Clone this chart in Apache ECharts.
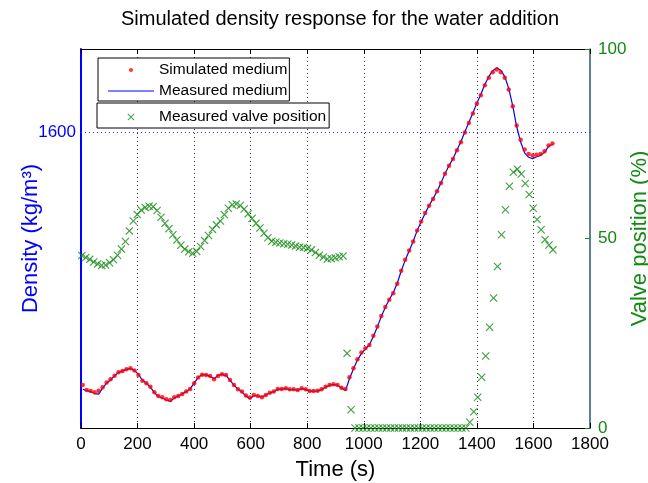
<!DOCTYPE html>
<html>
<head>
<meta charset="utf-8">
<script src="https://cdn.jsdelivr.net/npm/echarts@6/dist/echarts.min.js"></script>
<style>
  html, body { margin: 0; padding: 0; background: #fff; }
  #chart { width: 648px; height: 483px; }
</style>
</head>
<body>
<div id="chart"></div>
<script>
'use strict';
// sample times (s): density every ~14.08 s from 6 s, valve every 14 s from 3 s
var densityStart = 6, densityStep = 14.08;
var valveStart = 3, valveStep = 14;

// simulated density (red dots)
var simulatedDensity = [
  1343.7, 1338.6, 1337.6, 1336.3, 1337.9, 1341.4, 1346.1, 1349.5, 1353.2, 1356.6,
  1358.0, 1359.7, 1360.7, 1358.3, 1353.9, 1348.1, 1345.5, 1342.0, 1336.3, 1332.6,
  1331.2, 1329.2, 1328.5, 1331.2, 1332.6, 1334.6, 1337.0, 1339.7, 1345.5, 1351.2,
  1354.2, 1353.9, 1352.9, 1349.5, 1352.9, 1354.6, 1353.9, 1348.8, 1343.7, 1339.3,
  1337.0, 1332.9, 1331.0, 1333.6, 1332.6, 1331.2, 1333.6, 1335.9, 1337.0, 1339.7,
  1339.7, 1340.4, 1339.3, 1339.3, 1338.6, 1340.4, 1339.3, 1337.6, 1337.6, 1337.9,
  1339.3, 1342.0, 1343.7, 1344.4, 1343.7, 1341.0, 1339.7, 1351.6, 1360.7, 1369.9,
  1376.6, 1381.1, 1384.4, 1393.6, 1403.0, 1413.9, 1422.8, 1430.2, 1437.0, 1446.5,
  1459.7, 1470.9, 1480.3, 1489.5, 1500.7, 1509.8, 1518.4, 1525.8, 1532.6, 1540.4,
  1548.9, 1558.4, 1566.5, 1573.3, 1582.1, 1590.2, 1600.3, 1609.9, 1619.4, 1629.6,
  1638.0, 1648.2, 1655.7, 1661.4, 1664.2, 1661.4, 1655.7, 1643.8, 1626.8, 1607.2,
  1592.9, 1582.8, 1578.4, 1576.7, 1577.7, 1578.4, 1581.1, 1586.9, 1588.9
];

// measured density (blue line)
var measuredDensity = [
  1339.4, 1338.0, 1337.0, 1335.0, 1334.4, 1340.5, 1345.5, 1349.0, 1353.0, 1356.5,
  1358.0, 1359.5, 1360.5, 1358.5, 1354.5, 1348.5, 1345.5, 1341.5, 1336.0, 1332.0,
  1330.5, 1328.5, 1327.0, 1330.5, 1332.5, 1334.5, 1337.0, 1340.0, 1345.5, 1351.5,
  1354.0, 1354.0, 1352.5, 1350.0, 1353.5, 1354.5, 1353.5, 1348.5, 1343.5, 1339.5,
  1336.5, 1332.5, 1329.5, 1333.0, 1332.5, 1331.5, 1333.5, 1335.5, 1337.0, 1339.5,
  1339.5, 1340.0, 1339.0, 1339.0, 1338.5, 1340.0, 1339.0, 1337.5, 1337.5, 1337.5,
  1339.0, 1341.5, 1343.5, 1344.0, 1343.5, 1340.5, 1338.0, 1350.0, 1360.0, 1369.0,
  1375.5, 1380.5, 1384.5, 1393.0, 1402.5, 1413.5, 1422.5, 1430.5, 1437.5, 1447.0,
  1459.5, 1470.5, 1480.0, 1489.5, 1500.5, 1509.5, 1518.0, 1526.0, 1533.0, 1540.5,
  1549.0, 1558.5, 1566.5, 1573.5, 1582.5, 1591.0, 1601.0, 1610.5, 1620.0, 1630.0,
  1639.0, 1649.0, 1657.0, 1663.0, 1666.0, 1663.5, 1657.0, 1645.0, 1627.5, 1606.0,
  1590.5, 1579.5, 1575.0, 1573.5, 1575.5, 1577.0, 1580.0, 1586.0, 1588.5
];

// measured valve position (%), green crosses
var valvePosition = [
  45.5, 45.0, 44.5, 43.8, 43.3, 42.9, 43.0, 43.6, 44.4, 45.6,
  47.2, 49.2, 52.0, 54.6, 56.3, 57.5, 58.2, 58.5, 58.4, 57.4,
  55.6, 54.0, 52.6, 51.0, 49.6, 48.2, 47.2, 46.5, 46.1, 46.6,
  47.9, 49.5, 50.8, 52.4, 53.6, 54.6, 56.3, 58.0, 58.9, 59.1,
  58.7, 57.8, 56.5, 55.3, 54.0, 52.8, 51.4, 50.2, 49.3, 49.0,
  48.8, 48.6, 48.5, 48.3, 48.0, 47.7, 47.6, 47.4, 47.0, 46.3,
  45.6, 45.1, 44.6, 44.7, 44.9, 45.2, 45.4, 19.7, 4.8, 0,
  0, 0, 0, 0, 0, 0, 0, 0, 0, 0,
  0, 0, 0, 0, 0, 0, 0, 0, 0, 0,
  0, 0, 0, 0, 0, 0, 0, 0, 1.5, 4.3,
  8.1, 13.4, 19.0, 26.6, 34.3, 42.6, 51.0, 57.6, 63.8, 67.5,
  68.3, 67.0, 64.5, 61.6, 58.0, 55.0, 52.3, 49.7, 48.3, 47.0
];

var timeTicks = [0, 1800, 200];
var densityAxis = [1300, 1685, 100];
var valveAxis = [0, 100, 50];
var densityLabel = 1600;

var BLUE = '#0000ff', RED = '#ff0000', GREEN = '#128a12';
var FONT = 'Liberation Sans, Arial, Helvetica, sans-serif';
var crossPath = 'path://M0,1 L1,0 L5,4 L9,0 L10,1 L6,5 L10,9 L9,10 L5,6 L1,10 L0,9 L4,5 Z';
// legend icons drawn in a 46x14 box (tiny corner triangles keep the box size)
var boxCorners = 'M0,0 L0.01,0 L0,0.01 Z M46,14 L45.99,14 L46,13.99 Z ';
var dotIcon = 'path://' + boxCorners + 'M21,7 A2,2 0 1,0 25,7 A2,2 0 1,0 21,7 Z';
var lineIcon = 'path://' + boxCorners + 'M0,6.5 L46,6.5 L46,7.5 L0,7.5 Z';
var crossIcon = 'path://' + boxCorners +
  'M19.5,4.2 L20.2,3.5 L23,6.3 L25.8,3.5 L26.5,4.2 L23.7,7 L26.5,9.8 L25.8,10.5 L23,7.7 L20.2,10.5 L19.5,9.8 L22.3,7 Z';

function pairs(values, start, step) {
  return values.map(function (v, i) { return [start + step * i, v]; });
}

var legendText = { fontSize: 15.5, color: '#000', fontFamily: FONT };

var chart = echarts.init(document.getElementById('chart'));
var option = {
  animation: false,
  backgroundColor: '#fff',
  textStyle: { fontFamily: FONT },
  title: {
    text: 'Simulated density response for the water addition',
    left: 335, top: 4, textAlign: 'center',
    textStyle: { fontSize: 20, fontWeight: 'normal', color: '#000', fontFamily: FONT }
  },
  grid: { left: 81, right: 58, top: 49, bottom: 55, outerBoundsMode: 'none' },
  legend: [
    {
      data: [{ name: 'Simulated medium', icon: dotIcon }],
      left: 98, top: 58, padding: [4, 2, 23, 10],
      itemWidth: 46, itemHeight: 14, selectedMode: false,
      borderColor: '#000', borderWidth: 1, backgroundColor: '#fff', z: 5,
      textStyle: legendText
    },
    {
      data: [{ name: 'Measured medium', icon: lineIcon, itemStyle: { color: BLUE } }],
      left: 108, top: 83, padding: 0,
      itemWidth: 46, itemHeight: 14, selectedMode: false, z: 6,
      textStyle: legendText
    },
    {
      data: [{ name: 'Measured valve position', icon: crossIcon }],
      left: 97, top: 103, padding: [6, 3, 3, 11],
      itemWidth: 46, itemHeight: 14, selectedMode: false,
      borderColor: '#000', borderWidth: 1, backgroundColor: '#fff', z: 5,
      textStyle: legendText
    }
  ],
  xAxis: [
    {
      type: 'value', min: timeTicks[0], max: timeTicks[1], interval: timeTicks[2],
      name: 'Time (s)', nameLocation: 'middle', nameGap: 31, nameMoveOverlap: false,
      nameTextStyle: { fontSize: 22, color: '#000' },
      axisLine: { onZero: false, lineStyle: { color: '#000', width: 1 } },
      axisTick: { inside: true, length: 5, lineStyle: { color: '#000' } },
      axisLabel: { fontSize: 17, color: '#000', margin: 8, formatter: function (v) { return String(v); } },
      splitLine: {
        show: true, showMinLine: false, showMaxLine: false,
        lineStyle: { color: '#333', width: 1, type: [1, 3] }
      }
    },
    {
      type: 'value', position: 'top', min: timeTicks[0], max: timeTicks[1], interval: timeTicks[2],
      axisLine: { onZero: false, lineStyle: { color: '#000', width: 1 } },
      axisTick: { inside: true, length: 5, lineStyle: { color: '#000' } },
      axisLabel: { show: false },
      splitLine: { show: false }
    }
  ],
  yAxis: [
    {
      type: 'value', position: 'left',
      min: densityAxis[0], max: densityAxis[1], interval: densityAxis[2],
      name: 'Density (kg/m³)', nameLocation: 'middle', nameGap: 39, nameMoveOverlap: false,
      nameTextStyle: { fontSize: 22, color: BLUE },
      axisLine: { show: true, onZero: false, lineStyle: { color: BLUE, width: 2 } },
      axisTick: { show: false },
      axisLabel: {
        fontSize: 17, color: BLUE, margin: 5,
        formatter: function (v) { return v === densityLabel ? String(v) : ''; }
      },
      splitLine: { show: false }
    },
    {
      type: 'value', position: 'right',
      min: valveAxis[0], max: valveAxis[1], interval: valveAxis[2],
      name: 'Valve position (%)', nameLocation: 'middle', nameGap: 39, nameMoveOverlap: false,
      nameTextStyle: { fontSize: 22, color: GREEN },
      axisLine: { show: true, onZero: false, lineStyle: { color: '#24586a', width: 1.5 } },
      axisTick: { inside: true, length: 5, lineStyle: { color: GREEN } },
      axisLabel: { fontSize: 17, color: GREEN, margin: 8 },
      splitLine: { show: false }
    }
  ],
  series: [
    {
      name: 'Measured valve position', type: 'scatter', yAxisIndex: 1,
      symbol: crossPath, symbolSize: 8,
      itemStyle: { color: GREEN },
      data: pairs(valvePosition, valveStart, valveStep), z: 2
    },
    {
      name: 'Measured medium', type: 'line', yAxisIndex: 0,
      symbol: 'none', color: BLUE,
      lineStyle: { color: BLUE, width: 1.2 },
      data: pairs(measuredDensity, densityStart, densityStep), z: 3,
      markLine: {
        silent: true, symbol: 'none', label: { show: false },
        lineStyle: { color: '#2a2aff', width: 1, type: [1, 3] },
        data: [{ yAxis: densityLabel }]
      }
    },
    {
      name: 'Simulated medium', type: 'scatter', yAxisIndex: 0,
      symbol: 'circle', symbolSize: 4.5,
      itemStyle: { color: RED },
      data: pairs(simulatedDensity, densityStart, densityStep), z: 4
    }
  ]
};
chart.setOption(option);
</script>
</body>
</html>
